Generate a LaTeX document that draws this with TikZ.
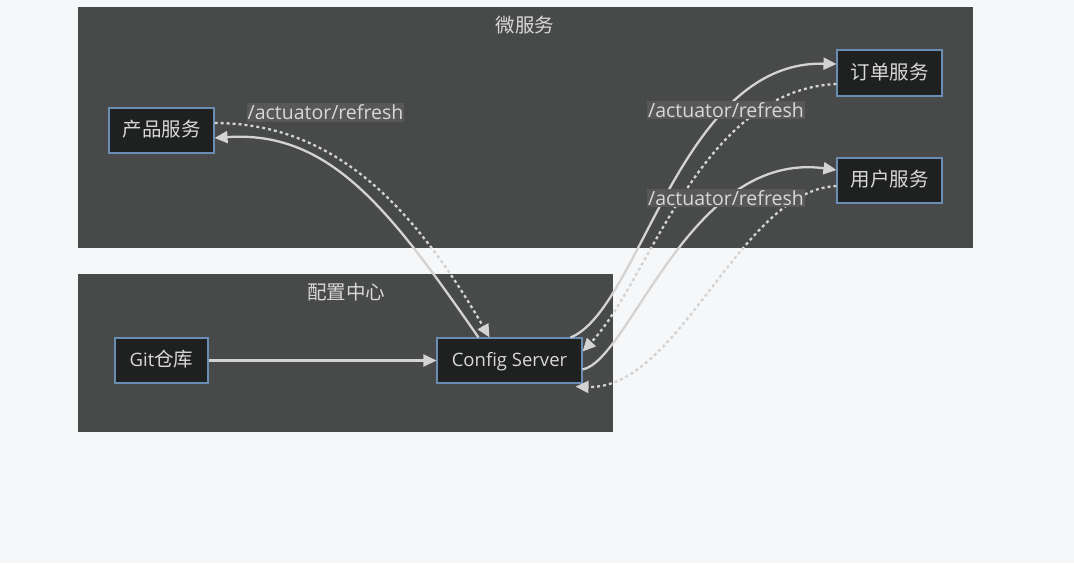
\documentclass[tikz,border=0pt]{standalone}
\usepackage{fontspec}
\setmainfont{Open Sans}
\newfontfamily\cjk{Noto Sans CJK SC}
\usetikzlibrary{arrows.meta,calc}
\definecolor{pagebg}{HTML}{F6F7F9}
\definecolor{clusterbg}{HTML}{484949}
\definecolor{nodebg}{HTML}{1F2020}
\definecolor{nodeborder}{HTML}{6A8DB3}
\definecolor{txt}{HTML}{D8D8D8}
\definecolor{edgecol}{HTML}{D3D3D3}
\definecolor{labelbg}{HTML}{585858}
\tikzset{
  svc/.style={draw=nodeborder, line width=1.1pt, fill=nodebg, text=txt,
    font=\fontsize{18.5}{22}\selectfont, minimum height=45pt, inner sep=0pt,
    text height=13pt, text depth=1pt},
  cluster/.style={fill=clusterbg, draw=none},
  ctitle/.style={text=txt, font=\cjk\fontsize{19.5}{22}\selectfont},
  solidedge/.style={draw=edgecol, line width=2.3pt, -{Triangle[length=13pt,width=12pt]}},
  dotedge/.style={draw=edgecol, line width=2.3pt, dash pattern=on 3pt off 3pt, -{Triangle[length=13pt,width=12pt]}},
  elabel/.style={fill=labelbg, text=txt, font=\fontsize{19.5}{22}\selectfont, inner xsep=1pt, inner ysep=1.5pt},
}
\begin{document}
\begin{tikzpicture}[x=1pt,y=-1pt]
\useasboundingbox[fill=pagebg] (0,0) rectangle (1074,563);
% clusters
\fill[cluster] (78,7) rectangle (973,248);
\node[ctitle] (t1) at (525,25) {微服务};
\fill[cluster] (78,274) rectangle (613,432);
\node[ctitle] (t2) at (346,292) {配置中心};
% nodes
\node[svc, minimum width=105pt] (p) at (161.5,130.5) {\cjk\fontsize{19.5}{22}\selectfont 产品服务};
\node[svc, minimum width=105pt, minimum height=46pt] (o) at (889.5,73) {\cjk\fontsize{19.5}{22}\selectfont 订单服务};
\node[svc, minimum width=105pt] (u) at (889.5,180.5) {\cjk\fontsize{19.5}{22}\selectfont 用户服务};
\node[svc, minimum width=93pt] (g) at (161.5,360.5) {Git{\cjk\fontsize{19.5}{22}\selectfont 仓库}};
\node[svc, minimum width=145pt] (cs) at (509.5,360.5) {Config Server};
% edges
\draw[solidedge] (g.east) -- (cs.west);
\draw[dotedge] ($(p.east)+(0,-7.5)$) .. controls (330,123) and (410,200) .. ($(cs.north)+(-20,0)$);
\draw[solidedge] ($(cs.north)+(-31,0)$) .. controls (390,210) and (330,130) .. ($(p.east)+(0,7.5)$);
\draw[solidedge] ($(cs.north east)+(-12,0)$) .. controls (640,310) and (680,60) .. ($(o.west)+(0,-9)$);
\draw[dotedge] ($(o.west)+(0,11)$) .. controls (700,90) and (650,280) .. ($(cs.east)+(0,-9)$);
\draw[solidedge] ($(cs.east)+(0,9)$) .. controls (630,360) and (690,150) .. ($(u.west)+(0,-10.5)$);
\draw[dotedge] ($(u.west)+(0,5.5)$) .. controls (740,190) and (680,390) .. ($(cs.south east)+(-7,3)$);
% labels
\node[elabel] (l1) at (325.5,112.5) {/actuator/refresh};
\node[elabel] (l2) at (726,110) {/actuator/refresh};
\node[elabel] (l3) at (726,198) {/actuator/refresh};
\end{tikzpicture}
\end{document}
